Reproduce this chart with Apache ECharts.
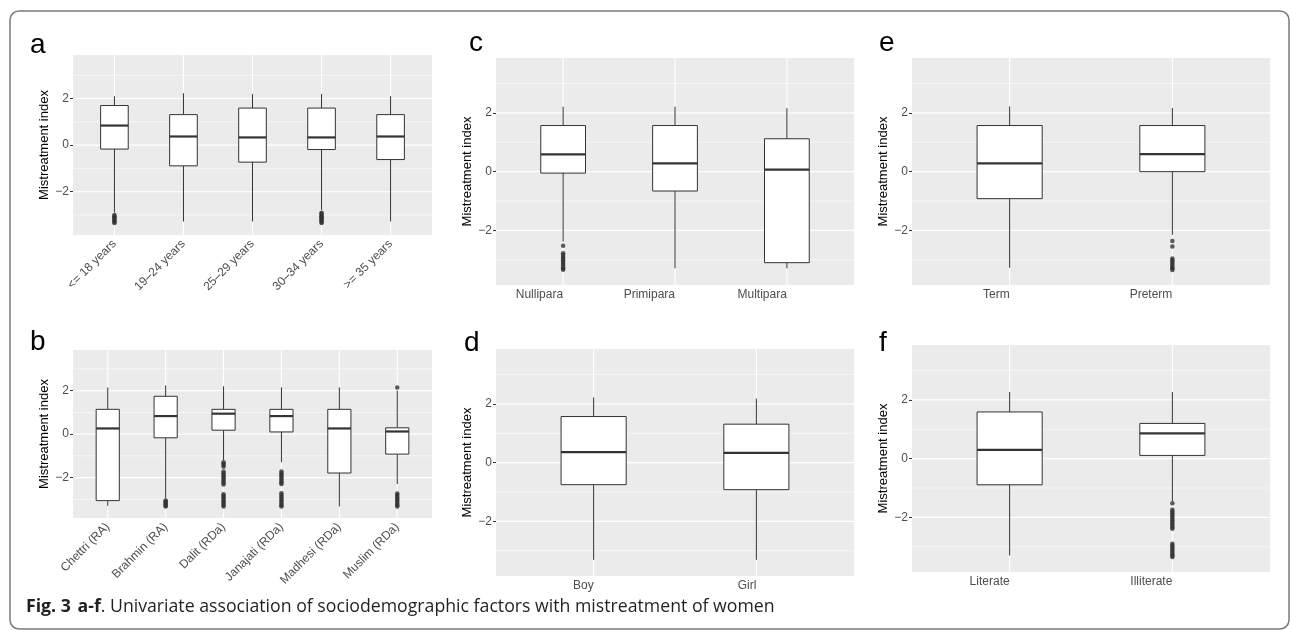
<!DOCTYPE html>
<html>
<head>
<meta charset="utf-8">
<script src="https://cdn.jsdelivr.net/npm/echarts@6/dist/echarts.min.js"></script>
<style>
html,body{margin:0;padding:0;background:#fff;}
#chart{width:1290px;height:630px;}
</style>
</head>
<body>
<div id="chart"></div>
<script>
// ---------- DATA ----------
// each box: [lower whisker, Q1, median, Q3, upper whisker]
const catsA = ['<= 18 years', '19\u201324 years', '25\u201329 years', '30\u201334 years', '>= 35 years'];
const boxA = [
  [-2.90, -0.17, 0.84, 1.70, 2.10],
  [-3.28, -0.89, 0.37, 1.31, 2.23],
  [-3.28, -0.73, 0.33, 1.59, 2.19],
  [-2.78, -0.19, 0.33, 1.59, 2.19],
  [-3.28, -0.62, 0.37, 1.31, 2.10]
];
const outA = [
  [-3.00, -3.05, -3.10, -3.15, -3.20, -3.25, -3.30, -3.34],
  [],
  [],
  [-2.90, -2.95, -3.00, -3.05, -3.10, -3.15, -3.20, -3.25, -3.30, -3.34],
  []
];

const catsB = ['Chettri (RA)', 'Brahmin (RA)', 'Dalit (RDa)', 'Janajati (RDa)', 'Madhesi (RDa)', 'Muslim (RDa)'];
const boxB = [
  [-3.30, -3.06, 0.26, 1.14, 2.15],
  [-2.95, -0.17, 0.83, 1.74, 2.24],
  [-1.20, 0.18, 0.94, 1.14, 2.20],
  [-1.29, 0.10, 0.83, 1.14, 2.15],
  [-3.33, -1.79, 0.26, 1.14, 2.15],
  [-2.30, -0.92, 0.12, 0.29, 2.00]
];
const outB = [
  [],
  [-3.05, -3.10, -3.15, -3.20, -3.25, -3.30, -3.33],
  [-1.30, -1.36, -1.42, -1.50, -1.72, -1.80, -1.88, -1.95, -2.02, -2.10, -2.18, -2.25, -2.32,
   -2.77, -2.84, -2.91, -2.98, -3.05, -3.12, -3.19, -3.26, -3.33],
  [-1.72, -1.80, -1.88, -1.95, -2.02, -2.10, -2.18, -2.25, -2.30,
   -2.72, -2.80, -2.88, -2.96, -3.04, -3.12, -3.20, -3.27, -3.33],
  [],
  [2.15, -2.73, -2.80, -2.88, -2.96, -3.04, -3.12, -3.20, -3.27, -3.33]
];

const catsC = ['Nullipara', 'Primipara', 'Multipara'];
const boxC = [
  [-2.38, -0.05, 0.59, 1.57, 2.21],
  [-3.29, -0.66, 0.28, 1.57, 2.21],
  [-3.29, -3.10, 0.07, 1.12, 2.16]
];
const outC = [
  [-2.52, -2.78, -2.84, -2.90, -2.96, -3.02, -3.08, -3.14, -3.20, -3.26, -3.30, -3.34],
  [],
  []
];

const catsD = ['Boy', 'Girl'];
const boxD = [
  [-3.31, -0.75, 0.36, 1.57, 2.22],
  [-3.31, -0.92, 0.33, 1.31, 2.18]
];
const outD = [[], []];

const catsE = ['Term', 'Preterm'];
const boxE = [
  [-3.27, -0.92, 0.28, 1.57, 2.22],
  [-2.15, 0.00, 0.60, 1.57, 2.17]
];
const outE = [
  [],
  [-2.36, -2.55, -2.96, -3.02, -3.08, -3.14, -3.20, -3.26, -3.30, -3.35]
];

const catsF = ['Literate', 'Illiterate'];
const boxF = [
  [-3.30, -0.89, 0.30, 1.59, 2.27],
  [-1.45, 0.11, 0.86, 1.20, 2.27]
];
const outF = [
  [],
  [-1.52, -1.74, -1.80, -1.86, -1.92, -1.98, -2.04, -2.10, -2.16, -2.22, -2.28, -2.34, -2.39,
   -2.90, -2.96, -3.02, -3.08, -3.14, -3.20, -3.26, -3.31, -3.35]
];

const yMajor = [-2, 0, 2];
const yMinor = [-3, -1, 1, 3];
const yMin = -3.86, yMax = 3.87;
const yTitle = 'Mistreatment index';
const panelLetters = ['a', 'b', 'c', 'd', 'e', 'f'];
const caption = { bold1: 'Fig.\u00a03', bold2: 'a-f', rest: '. Univariate association of sociodemographic factors with mistreatment of women' };

// ---------- CHART ----------
const FONT = '"Liberation Sans", Arial, Helvetica, sans-serif';
const panels = [
  { cats: catsA, box: boxA, out: outA, grid: { left: 73, top: 55, width: 359, height: 180 }, rotate: 45 },
  { cats: catsB, box: boxB, out: outB, grid: { left: 73, top: 350, width: 359, height: 168 }, rotate: 45 },
  { cats: catsC, box: boxC, out: outC, grid: { left: 496, top: 58, width: 358, height: 227 }, rotate: 0 },
  { cats: catsD, box: boxD, out: outD, grid: { left: 496, top: 349, width: 358, height: 227 }, rotate: 0 },
  { cats: catsE, box: boxE, out: outE, grid: { left: 912, top: 58, width: 358, height: 227 }, rotate: 0 },
  { cats: catsF, box: boxF, out: outF, grid: { left: 912, top: 345, width: 358, height: 227 }, rotate: 0 }
];

function renderGridLines(params, api) {
  const cs = params.coordSys;
  const y = api.coord([1, api.value(1)])[1];
  const w = api.value(2) ? 1.1 : 0.55;
  return {
    type: 'line',
    shape: { x1: cs.x, y1: y, x2: cs.x + cs.width, y2: y },
    style: { stroke: '#ffffff', lineWidth: w }
  };
}

function renderBox(params, api) {
  const cs = params.coordSys;
  const i = api.value(0);
  const lo = api.coord([i, api.value(1)]);
  const q1 = api.coord([i, api.value(2)]);
  const md = api.coord([i, api.value(3)]);
  const q3 = api.coord([i, api.value(4)]);
  const hi = api.coord([i, api.value(5)]);
  const x = md[0];
  const bw = api.size([1, 0])[0] * 0.4;
  return {
    type: 'group',
    children: [
      { type: 'line', shape: { x1: x, y1: cs.y, x2: x, y2: cs.y + cs.height }, style: { stroke: '#ffffff', lineWidth: 1.1 } },
      { type: 'line', shape: { x1: x, y1: hi[1], x2: x, y2: q3[1] }, style: { stroke: '#333333', lineWidth: 1 } },
      { type: 'line', shape: { x1: x, y1: q1[1], x2: x, y2: lo[1] }, style: { stroke: '#333333', lineWidth: 1 } },
      { type: 'rect', shape: { x: x - bw / 2, y: q3[1], width: bw, height: q1[1] - q3[1] }, style: { fill: '#ffffff', stroke: '#333333', lineWidth: 1 } },
      { type: 'line', shape: { x1: x - bw / 2, y1: md[1], x2: x + bw / 2, y2: md[1] }, style: { stroke: '#333333', lineWidth: 2.2 } }
    ]
  };
}

const grid = [], xAxis = [], yAxis = [], series = [];
panels.forEach((p, k) => {
  const n = p.cats.length;
  const pos = p.cats.map((c, i) => i + 1);
  grid.push(Object.assign({ show: true, backgroundColor: '#EBEBEB', borderWidth: 0 }, p.grid));
  const lblBase = { customValues: pos, color: '#4D4D4D', fontSize: 12, fontFamily: FONT,
    formatter: v => (Math.abs(v - Math.round(v)) < 1e-6 && v >= 1 && v <= n) ? p.cats[Math.round(v) - 1] : '' };
  xAxis.push({
    type: 'value', gridIndex: k, min: 0.4, max: n + 0.6, splitNumber: n,
    axisLine: { show: false },
    axisTick: { show: true, customValues: pos, length: 3, lineStyle: { color: '#333333', width: 1 } },
    axisLabel: p.rotate ? Object.assign({ rotate: 45, margin: 7 }, lblBase)
                        : Object.assign({ align: 'right', margin: 4 }, lblBase),
    splitLine: { show: false }
  });
  yAxis.push({
    type: 'value', gridIndex: k, min: yMin, max: yMax, splitNumber: 4,
    axisLine: { show: false },
    axisTick: { show: true, customValues: yMajor, length: 3, lineStyle: { color: '#333333', width: 1 } },
    axisLabel: {
      customValues: yMajor,
      margin: 4, color: '#4D4D4D', fontSize: 12, fontFamily: FONT,
      formatter: v => (Math.abs(v - Math.round(v)) > 1e-6 ? '' : String(v).replace('-', '\u2212'))
    },
    splitLine: { show: false },
    name: yTitle, nameLocation: 'middle', nameGap: 21,
    nameTextStyle: { color: '#000000', fontSize: 13, fontFamily: FONT }
  });
  series.push({
    type: 'custom', xAxisIndex: k, yAxisIndex: k, z: 1, silent: true,
    renderItem: renderGridLines,
    encode: { x: 0, y: 1 },
    data: yMajor.map(v => [1, v, 1]).concat(yMinor.map(v => [1, v, 0]))
  });
  series.push({
    type: 'custom', xAxisIndex: k, yAxisIndex: k, z: 2, silent: true,
    renderItem: renderBox,
    encode: { x: 0, y: [1, 2, 3, 4, 5] },
    data: p.box.map((b, i) => [i + 1].concat(b))
  });
  const pts = [];
  p.out.forEach((arr, i) => arr.forEach(v => pts.push([i + 1, v])));
  series.push({
    type: 'scatter', xAxisIndex: k, yAxisIndex: k, z: 3, silent: true,
    symbol: 'circle', symbolSize: 4.5,
    itemStyle: { color: '#333333' },
    data: pts
  });
});

const letterPos = [[30, 55], [30, 352], [469, 53], [464, 353], [879, 53], [879, 353]];
const graphic = [
  { type: 'rect', shape: { x: 10, y: 11, width: 1279, height: 618, r: 9 }, style: { fill: 'none', stroke: '#7a7a7a', lineWidth: 1.5 }, silent: true, z: 10 }
];
panelLetters.forEach((t, i) => {
  graphic.push({
    type: 'text', silent: true, z: 10,
    style: { text: t, x: letterPos[i][0], y: letterPos[i][1] - 10, fill: '#000', font: '28px ' + FONT, verticalAlign: 'middle', align: 'left' }
  });
});
graphic.push({
  type: 'text', silent: true, z: 10,
  style: {
    x: 26, y: 607, verticalAlign: 'middle', align: 'left',
    text: '{b|' + caption.bold1 + '}  {b|' + caption.bold2 + '}{n|' + caption.rest + '}',
    rich: {
      b: { fontFamily: '"Open Sans", "Noto Sans", sans-serif', fontSize: 17.7, fontWeight: 'bold', fill: '#231f20' },
      n: { fontFamily: '"Open Sans", "Noto Sans", sans-serif', fontSize: 17.7, fill: '#231f20' }
    }
  }
});

const chart = echarts.init(document.getElementById('chart'), null, { renderer: 'canvas' });
chart.setOption({
  backgroundColor: '#ffffff',
  animation: false,
  grid, xAxis, yAxis, series, graphic
});
</script>
</body>
</html>
